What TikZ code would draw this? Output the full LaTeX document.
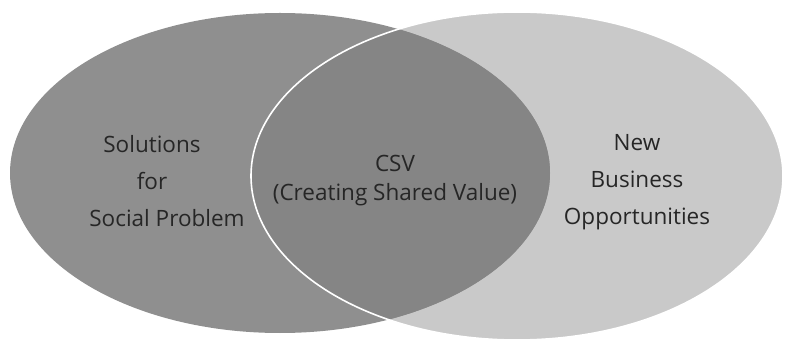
\documentclass[tikz,border=0pt]{standalone}
\usepackage{fontspec}
\setmainfont{Open Sans}
\usepackage{tikz}
\usetikzlibrary{positioning}

\begin{document}
\begin{tikzpicture}[
		x=1pt, y=1pt,
		label/.style = {align=center, text=black!85, font=\fontsize{22.5}{37}\selectfont, inner sep=0pt},
		outer/.style = {fill=black!44},
		other/.style = {fill=black!21},
		common/.style = {fill=black!48},
		rim/.style = {draw=white, line width=1.6pt}]
	
	\useasboundingbox (0,0) rectangle (785,343);
	
	% the two sets
	\fill[other] (517,167) ellipse (266 and 164);
	\fill[outer] (280,170) ellipse (270 and 160);
	
	% the part they share
	\begin{scope}
		\clip (280,170) ellipse (270 and 160);
		\fill[common] (517,167) ellipse (266 and 164);
	\end{scope}
	\draw[rim] (517,167) ellipse (266 and 164);
	
	% texts of the sets
	\node[label] (social) at (152,162) {Solutions\\for\\\hspace*{30pt}Social Problem};
	\node[label] (csv) at (395,162) {CSV\\[-8pt](Creating Shared Value)};
	\node[label] (business) at (637,161) {New\\Business\\Opportunities};
\end{tikzpicture}
\end{document}
